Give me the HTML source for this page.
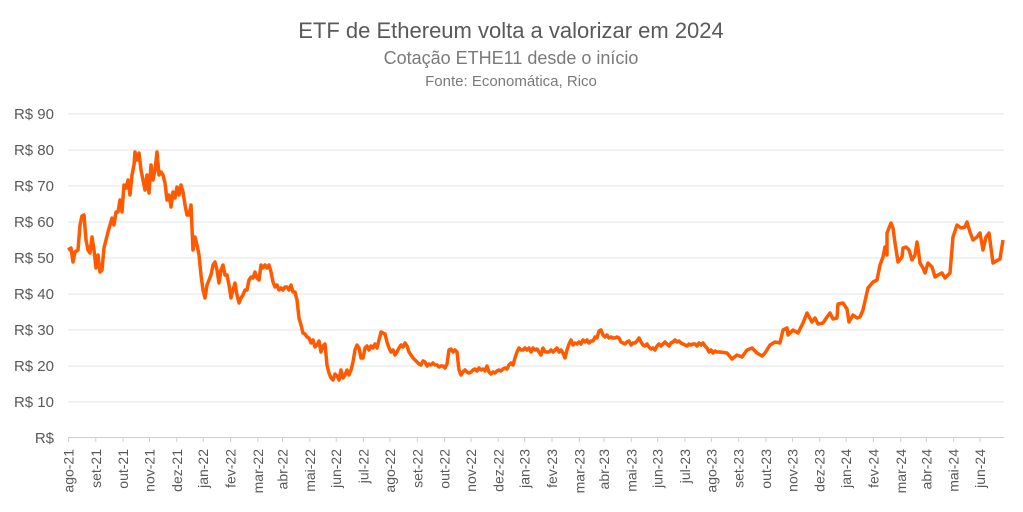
<!DOCTYPE html>
<html><head><meta charset="utf-8"><style>
html,body{margin:0;padding:0;background:#fff;width:1023px;height:512px;overflow:hidden}
text{font-family:"Liberation Sans",sans-serif}
</style></head><body>
<svg width="1023" height="512" viewBox="0 0 1023 512" xmlns="http://www.w3.org/2000/svg">
<text x="511" y="38" text-anchor="middle" font-size="22" fill="#595959">ETF de Ethereum volta a valorizar em 2024</text>
<text x="511" y="64" text-anchor="middle" font-size="18" fill="#7a7a7a">Cotação ETHE11 desde o início</text>
<text x="511" y="86" text-anchor="middle" font-size="15" fill="#7a7a7a">Fonte: Economática, Rico</text>
<g stroke="#e3e3e3" stroke-width="1">
<line x1="68" x2="1004" y1="114" y2="114"/><line x1="68" x2="1004" y1="150" y2="150"/>
<line x1="68" x2="1004" y1="186" y2="186"/><line x1="68" x2="1004" y1="222" y2="222"/>
<line x1="68" x2="1004" y1="258" y2="258"/><line x1="68" x2="1004" y1="294" y2="294"/>
<line x1="68" x2="1004" y1="330" y2="330"/><line x1="68" x2="1004" y1="366" y2="366"/>
<line x1="68" x2="1004" y1="402" y2="402"/>
</g>
<line x1="68" x2="1004" y1="437.5" y2="437.5" stroke="#cfcfcf" stroke-width="1"/>
<g font-size="15" fill="#595959" text-anchor="end">
<text x="54" y="119">R$ 90</text><text x="54" y="155">R$ 80</text><text x="54" y="191">R$ 70</text>
<text x="54" y="227">R$ 60</text><text x="54" y="263">R$ 50</text><text x="54" y="299">R$ 40</text>
<text x="54" y="335">R$ 30</text><text x="54" y="371">R$ 20</text><text x="54" y="407">R$ 10</text>
<text x="54" y="443">R$</text>
</g>
<g id="ticks" stroke="#cfcfcf" stroke-width="1"></g>
<g id="xl" font-size="14" fill="#595959"></g>
<polyline fill="none" stroke="#ff5a00" stroke-width="3.5" stroke-linejoin="round" points="68,250 71,248 73,262 75,252 78,250 80,225 82,216 84,215 86,240 88,250 90,253 92,237 94,250 96,268 98,255 100,272 102,270 104,248 106,240 108,232 110,225 112,218 114,225 116,212 118,212 120,200 122,212 124,185 126,188 128,180 130,195 132,175 134,165 135,152 137,160 139,153 141,170 143,180 145,190 147,175 149,193 151,165 153,180 155,170 157,152 159,175 161,172 163,175 165,183 167,200 169,195 171,207 173,192 175,198 177,187 179,195 181,185 183,192 185,205 187,215 189,215 191,205 193,250 195,237 197,245 199,255 201,275 203,290 205,298 207,285 209,280 211,275 213,265 215,262 217,270 219,283 221,270 223,265 225,275 227,275 229,285 231,298 233,290 235,283 237,295 239,303 241,298 243,295 245,290 247,290 249,280 251,277 253,278 255,272 257,278 259,280 261,265 263,268 265,265 267,268 269,265 271,272 273,282 275,287 277,285 279,290 281,288 283,290 285,287 287,287 289,290 291,285 293,292 295,292 297,300 299,318 301,325 303,333 305,334 307,337 309,338 311,343 313,340 315,347 317,345 319,341 321,352 323,346 325,344 327,365 329,373 331,378 333,380 335,374 337,376 339,380 341,370 343,378 345,375 347,370 349,375 351,370 353,362 355,350 357,345 359,348 361,358 363,358 365,348 367,346 369,350 371,346 373,348 375,344 377,348 379,340 381,332 383,333 385,334 387,342 389,348 391,352 393,350 395,355 397,352 399,348 401,345 403,347 405,343 407,346 409,352 411,355 413,358 415,360 417,362 419,364 421,365 423,361 425,362 427,366 429,364 431,365 433,363 435,365 437,365 439,367 441,366 443,366 445,368 447,364 449,350 451,349 453,352 455,350 457,352 459,370 461,375 463,372 465,370 467,372 469,373 471,372 473,370 475,369 477,371 479,368 481,370 483,369 485,371 487,366 489,372 491,374 493,372 495,373 497,371 499,370 501,371 503,369 505,368 507,369 509,365 511,363 513,365 515,358 517,352 519,348 521,350 523,350 525,348 527,350 529,348 531,352 533,348 535,350 537,349 539,352 541,355 543,348 545,352 547,352 549,352 551,350 553,352 555,350 557,348 559,352 561,350 563,353 565,358 567,350 569,344 571,340 573,345 575,343 577,344 579,342 581,344 583,340 585,342 587,340 589,343 591,341 593,341 595,337 597,338 599,331 601,330 603,335 605,337 607,335 609,338 611,337 613,338 615,338 617,337 619,338 621,342 623,343 625,344 627,342 629,341 631,345 633,343 635,343 637,341 639,338 641,342 643,345 645,346 647,344 649,347 651,349 653,348 655,350 657,346 659,344 661,346 663,344 665,342 667,344 669,346 671,343 673,342 675,340 677,342 679,341 681,343 683,344 685,345 687,346 689,344 691,345 693,344 695,344 697,346 699,343 701,345 703,343 705,346 707,348 709,352 711,350 713,353 715,351 717,352 720,352 727,353 732,359 737,355 742,357 747,350 752,348 757,353 762,356 765,353 770,345 775,342 780,343 783,330 787,328 788,335 793,330 798,333 803,323 807,313 812,322 815,318 818,324 823,323 827,317 830,313 833,319 837,318 838,304 843,303 847,309 849,322 853,315 857,318 860,317 863,310 868,288 873,282 877,280 880,265 883,257 885,247 887,255 887,233 891,223 893,228 895,243 898,262 902,257 903,248 906,247 909,250 912,260 915,255 917,242 918,248 920,263 923,268 925,273 928,263 932,267 935,277 938,275 942,273 945,278 950,273 953,237 957,225 961,228 965,227 967,222 970,232 973,240 977,237 980,233 983,250 986,237 989,233 993,263 998,260 1000,259 1003,240"/>
</svg>
<script>
var m=["ago-21","set-21","out-21","nov-21","dez-21","jan-22","fev-22","mar-22","abr-22","mai-22","jun-22","jul-22","ago-22","set-22","out-22","nov-22","dez-22","jan-23","fev-23","mar-23","abr-23","mai-23","jun-23","jul-23","ago-23","set-23","out-23","nov-23","dez-23","jan-24","fev-24","mar-24","abr-24","mai-24","jun-24"];
var days=[31,31,30,31,30,31,31,28,31,30,31,30,31,31,30,31,30,31,31,28,31,30,31,30,31,31,30,31,30,31,31,29,31,30,31];
var ns="http://www.w3.org/2000/svg",t=document.getElementById("ticks"),xl=document.getElementById("xl"),d=0;
for(var i=0;i<m.length;i++){var x=68.5+d*0.8807;
var l=document.createElementNS(ns,"line");l.setAttribute("x1",x);l.setAttribute("x2",x);l.setAttribute("y1",437);l.setAttribute("y2",442);t.appendChild(l);
var s=document.createElementNS(ns,"text");s.setAttribute("transform","translate("+(x+5)+",449) rotate(-90)");s.setAttribute("text-anchor","end");s.textContent=m[i];xl.appendChild(s);
d+=days[i];}
</script>
</body></html>
